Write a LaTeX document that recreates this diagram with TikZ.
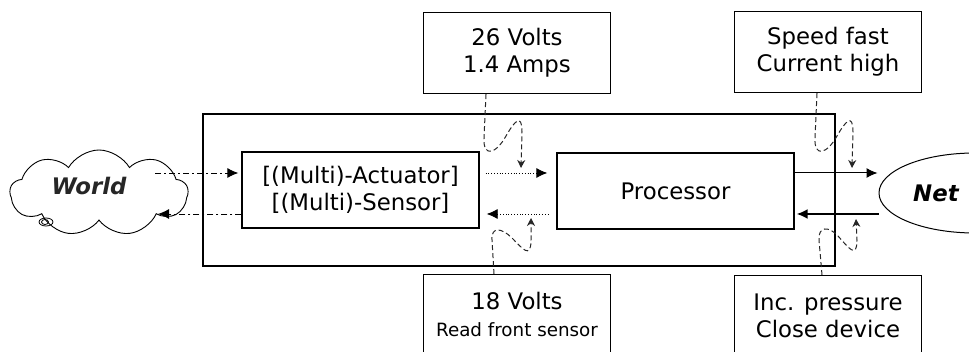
\documentclass[tikz,border=0pt]{standalone}
\usepackage{fontspec}
\setmainfont{DejaVu Sans}
\usetikzlibrary{shapes.symbols,shapes.geometric,arrows.meta,positioning}

\tikzset{
  bigfont/.style={font=\fontsize{22.8}{27}\selectfont},
  infobox/.style={draw, line width=1.3pt, minimum width=187pt, minimum height=81pt, align=center, inner sep=0pt, bigfont},
  unitbox/.style={draw, line width=1.3pt, minimum width=237pt, minimum height=76pt, align=center, inner sep=0pt, bigfont},
  worldarrow/.style={line width=0.9pt, dash pattern=on 6pt off 3pt on 2pt off 3pt, -{Latex[length=11pt,width=10pt]}},
  innerarrow/.style={line width=0.8pt, dotted, -{Latex[length=11pt,width=10pt]}},
  netarrow/.style={line width=#1, -{Latex[length=11pt,width=10pt]}},
  squiggle/.style={line width=1pt, black!85, dash pattern=on 5pt off 3pt, -{Stealth[length=8pt,width=8pt]}}
}

\begin{document}
\begin{tikzpicture}[x=1pt, y=1pt]
  \useasboundingbox (0,0) rectangle (969,-352);
  \clip (0,0) rectangle (969,-352);

  % surrounding frame
  \node[draw, line width=1.3pt, minimum width=632pt, minimum height=152pt] (frame) at (519,-190) {};

  % the world and the net
  \node[cloud, draw, line width=0.9pt, cloud puffs=9, cloud puff arc=120, aspect=2.1,
        minimum width=178pt, minimum height=86pt, inner sep=0pt] (world) at (99,-193) {};
  \node[font=\fontsize{22.8}{27}\selectfont\bfseries\itshape, text=black!85] (worldtext) at (89,-186) {World};
  \draw[line width=0.8pt] (46,-222) ellipse (7 and 4);
  \draw[line width=0.8pt] (45,-222) ellipse (3.5 and 2.5);
  \node[ellipse, draw, line width=1pt, minimum width=192pt, minimum height=80pt] (net) at (975,-193) {};
  \node[anchor=west, font=\fontsize{22.8}{27}\selectfont\bfseries\itshape, inner sep=0pt] (nettext) at (913,-193) {Net};

  % units
  \node[unitbox] (act) at (360.5,-190) {{[}(Multi)-Actuator{]}\\{[}(Multi)-Sensor{]}};
  \node[unitbox] (proc) at (675.5,-191) {Processor};

  % message boxes
  \node[infobox] (volt26) at (517,-53) {26 Volts\\1.4 Amps};
  \node[infobox] (speed) at (828,-52) {Speed fast\\Current high};
  \node[infobox, anchor=north, minimum height=80pt] (volt18) at (517,-274)
       {18 Volts\\\fontsize{18.3}{22}\selectfont Read front sensor};
  \node[infobox, anchor=north, minimum height=80pt] (press) at (828,-275) {Inc. pressure\\Close device};

  % data flow
  \draw[worldarrow, shorten >=3pt] ([shift={(56pt,20pt)}]world.center) -- ([yshift=17pt]act.west);
  \draw[worldarrow] ([yshift=-24pt]act.west) -- ([shift={(59pt,-21pt)}]world.center);
  \draw[innerarrow, shorten >=9pt] ([xshift=6pt,yshift=17pt]act.east) -- ([yshift=18pt]proc.west);
  \draw[innerarrow, shorten <=8pt] ([yshift=-23pt]proc.west) -- ([xshift=7pt,yshift=-24pt]act.east);
  \draw[netarrow=1pt, shorten >=1pt] ([yshift=18pt]proc.east) -- ([yshift=20pt]net.west);
  \draw[netarrow=1.9pt, shorten >=2pt] ([yshift=-21pt]net.west) -- ([yshift=-23pt]proc.east);

  % messages
  \draw[squiggle] ([xshift=-31pt]volt26.south) -- (484,-138)
    .. controls (483,-158) and (496,-154) .. (506,-136)
    .. controls (514,-122) and (522,-112) .. (522,-132) -- (521,-168);
  \draw[squiggle] ([xshift=-11pt]speed.south) -- (815,-138)
    .. controls (814,-158) and (827,-154) .. (837,-136)
    .. controls (845,-122) and (853,-112) .. (853,-132) -- (852,-168);
  \draw[squiggle] ([xshift=-23pt]volt18.north) -- (492,-240)
    .. controls (491,-226) and (502,-228) .. (512,-238)
    .. controls (522,-248) and (531,-260) .. (531,-240) -- (531,-218);
  \draw[squiggle] ([xshift=-6pt]press.north) -- (819,-240)
    .. controls (818,-226) and (829,-226) .. (838,-236)
    .. controls (848,-247) and (857,-260) .. (857,-240) -- (856,-219);
\end{tikzpicture}
\end{document}
